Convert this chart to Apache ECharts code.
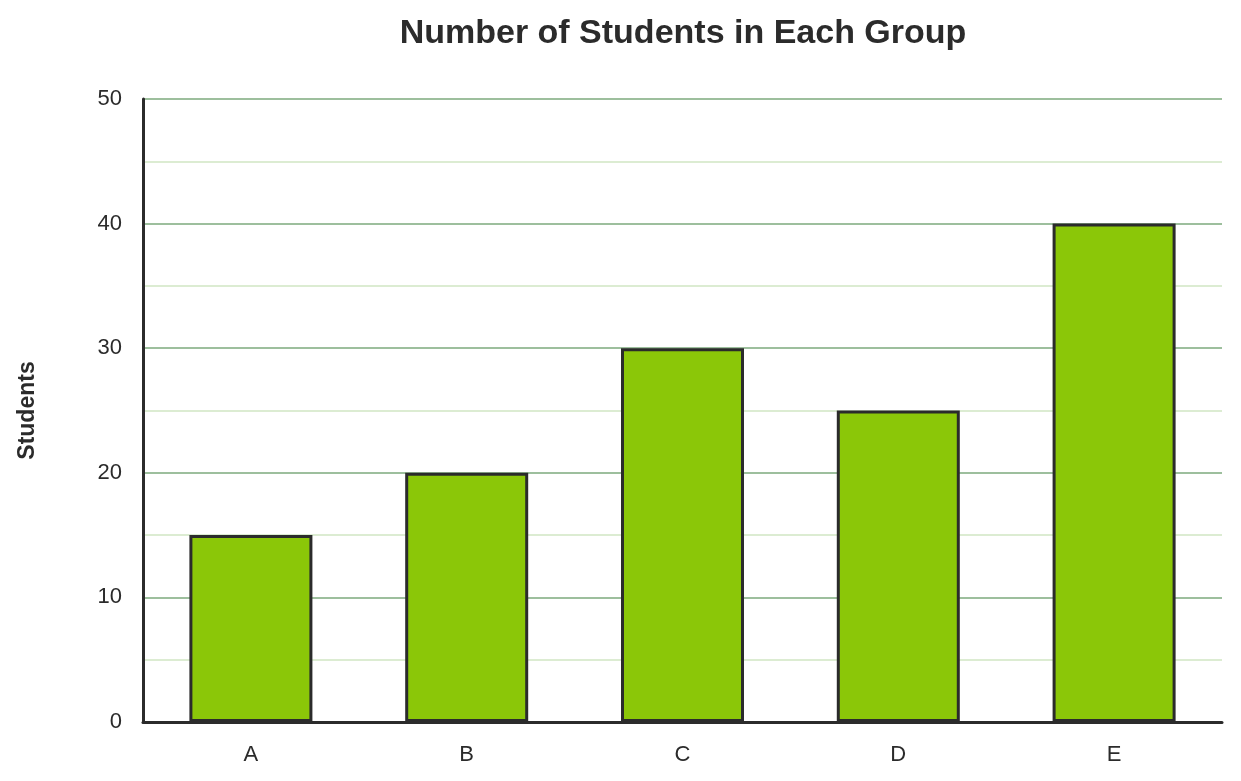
<!DOCTYPE html>
<html>
<head>
<meta charset="utf-8">
<script src="https://cdn.jsdelivr.net/npm/echarts@6/dist/echarts.min.js"></script>
<style>
html,body{margin:0;padding:0;background:#fff;}
#chart{width:1241px;height:781px;}
</style>
</head>
<body>
<div id="chart"></div>
<script>
const categories = ['A', 'B', 'C', 'D', 'E'];
const students = [15, 20, 30, 25, 40];
const yTicks = [0, 10, 20, 30, 40, 50];

const chart = echarts.init(document.getElementById('chart'), null, {renderer: 'canvas'});
chart.setOption({
  animation: false,
  backgroundColor: '#ffffff',
  textStyle: {fontFamily: '"Liberation Sans", Arial, sans-serif'},
  title: {
    text: 'Number of Students in Each Group',
    left: 678,
    top: 12,
    textAlign: 'center',
    textStyle: {fontSize: 34, fontWeight: 'bold', color: '#2b2b2b', fontFamily: '"Liberation Sans", Arial, sans-serif'}
  },
  grid: {left: 143, right: 19, top: 99, bottom: 59, containLabel: false},
  xAxis: {
    type: 'category',
    data: categories,
    axisLine: {show: true, lineStyle: {color: '#2b2b2b', width: 3}},
    axisTick: {show: false},
    axisLabel: {fontSize: 22, color: '#2b2b2b', margin: 22},
    splitLine: {show: false}
  },
  yAxis: {
    type: 'value',
    min: yTicks[0],
    max: yTicks[yTicks.length - 1],
    interval: 10,
    name: 'Students',
    nameLocation: 'middle',
    nameGap: 104,
    nameTextStyle: {fontSize: 23, fontWeight: 'bold', color: '#2b2b2b'},
    axisLine: {show: true, lineStyle: {color: '#2b2b2b', width: 3}},
    axisTick: {show: false},
    axisLabel: {fontSize: 22, color: '#2b2b2b', margin: 21, padding: [6, 0, 0, 0]},
    splitLine: {show: true, lineStyle: {color: '#9dbf9d', width: 2}},
    minorTick: {show: false, splitNumber: 2},
    minorSplitLine: {show: true, lineStyle: {color: '#dcecd2', width: 2}}
  },
  series: [{
    type: 'bar',
    data: students,
    barWidth: '57%',
    itemStyle: {color: '#8bc708', borderColor: '#2b2b2b', borderWidth: 3}
  }]
});
</script>
</body>
</html>
